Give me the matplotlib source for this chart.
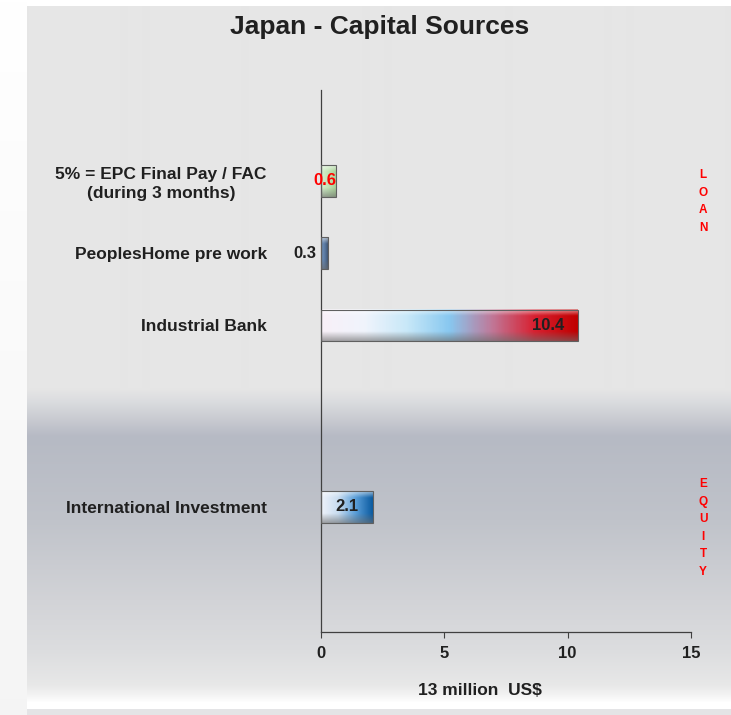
import numpy as np
import matplotlib
matplotlib.use("Agg")
import matplotlib.pyplot as plt
from matplotlib.colors import LinearSegmentedColormap, to_rgb
from matplotlib.patches import Rectangle

plt.rcParams['font.family'] = ['Liberation Sans', 'DejaVu Sans']
plt.rcParams['font.weight'] = 'bold'

# Data
categories = ["5% = EPC Final Pay / FAC\n(during 3 months)",
              "PeoplesHome pre work",
              "Industrial Bank",
              "International Investment"]
values = [0.6, 0.3, 10.4, 2.1]
slots = [1.25, 2.25, 3.25, 5.75]   # row slots (gap between loan and equity)
value_labels = ["0.6", "0.3", "10.4", "2.1"]
x_ticks = [0, 5, 10, 15]
x_label = "13 million  US$"
title = "Japan - Capital Sources"
groups = ["LOAN", "EQUITY"]

# horizontal colour ramps for the bevelled bars
bar_ramps = [
    ['#d8f0d0', '#c0e4b4', '#a8d098'],
    ['#7898c0', '#5878a0', '#384860'],
    ['#f8f0f8', '#f0f4fc', '#c8e8f8', '#88c8f0', '#c07898', '#d82030', '#c00000'],
    ['#eef2fa', '#c8dcf0', '#5a9ed8', '#0a5aa0'],
]

W, H = 731, 715
fig = plt.figure(figsize=(W / 100, H / 100), dpi=100)
fig.patch.set_facecolor('white')

# background panel with vertical gradient
bg = fig.add_axes([0, 0, 1, 1], zorder=-10)
bg.axis('off')
stops_y = [0, 388, 400, 415, 436, 520, 600, 650, 685, 695, 702, 705]
stops_c = ['#e6e6e6', '#e6e6e6', '#dcdde0', '#cdcfd4', '#b6bac4', '#c0c3ca',
           '#d2d3d7', '#dcdddf', '#e8e8e8', '#f4f4f4', '#ffffff', '#ffffff']
ys = np.arange(6, 705)
cols = np.array([to_rgb(c) for c in stops_c])
grad = np.stack([np.interp(ys, stops_y, cols[:, k]) for k in range(3)], axis=-1)
bg.imshow(grad[:, None, :], extent=(27, W, 705, 6), aspect='auto', interpolation='bilinear')
bg.add_patch(Rectangle((27, 709), W - 27, 6, color='#e4e4e6', lw=0))
left_strip = np.linspace(1.0, 0.96, 200)
bg.imshow(np.stack([left_strip] * 3, axis=-1)[:, None, :], extent=(0, 27, H, 0),
          aspect='auto', interpolation='bilinear')
bg.set_xlim(0, W)
bg.set_ylim(H, 0)

ax = fig.add_axes([321 / W, 1 - 632 / H, 370 / W, 542 / H])
ax.patch.set_alpha(0)

bar_h = 0.44
ny, nx = 40, 300
t = np.linspace(0, 1, ny)
# vertical bevel shading: light top edge, dark bottom edge
light = np.clip(1 - t / 0.2, 0, 1) * 0.55
dark = np.clip((t - 0.7) / 0.3, 0, 1) * 0.6
for i, (v, y, ramp) in enumerate(zip(values, slots, bar_ramps)):
    cmap = LinearSegmentedColormap.from_list('r%d' % i, ramp)
    row = cmap(np.linspace(0, 1, nx))[:, :3]
    img = np.repeat(row[None, :, :], ny, axis=0)
    img = img * (1 - light[:, None, None]) + light[:, None, None]
    img = img * (1 - dark[:, None, None]) + 0.42 * dark[:, None, None]
    ax.imshow(img, extent=(0, v, y + bar_h / 2, y - bar_h / 2), aspect='auto',
              interpolation='bilinear', zorder=2)
    ax.add_patch(Rectangle((0, y - bar_h / 2), v, bar_h, fill=False,
                           ec='#606060', lw=0.8, zorder=3))

ax.set_xlim(0, 15)
ax.set_ylim(7.48, 0)

# value labels
ax.text(values[0] + 0.02, slots[0], value_labels[0], color='red', fontsize=12,
        ha='right', va='center', zorder=4)
ax.text(-0.2, slots[1], value_labels[1], color='#202020', fontsize=12,
        ha='right', va='center', zorder=4)
ax.text(values[2] - 0.55, slots[2], value_labels[2], color='#202020', fontsize=12,
        ha='right', va='center', zorder=4)
ax.text(1.05, slots[3], value_labels[3], color='#202020', fontsize=12,
        ha='center', va='center', zorder=4)

ax.set_yticks(slots)
ax.set_yticklabels(categories, fontsize=12.5, color='#202020',
                   multialignment='center', linespacing=1.35)
ax.tick_params(axis='y', length=0, pad=39)
ax.set_xticks(x_ticks)
ax.set_xticklabels([str(x) for x in x_ticks], fontsize=12, color='#202020')
ax.tick_params(axis='x', length=4, width=0.8, color='#404040', pad=6, direction='out')
ax.set_xlabel(x_label, fontsize=12.5, fontweight='bold', color='#202020')
ax.xaxis.set_label_coords(0.43, -0.095)

for s in ['top', 'right']:
    ax.spines[s].set_visible(False)
for s in ['left', 'bottom']:
    ax.spines[s].set_color('#404040')
    ax.spines[s].set_linewidth(0.9)

# vertical group markers on the right
for word, y0 in zip(groups, [175, 484]):
    for k, ch in enumerate(word):
        fig.text(703 / W, 1 - (y0 + k * 17.6) / H, ch, color='red', fontsize=8.5,
                 ha='center', va='center')

fig.text(380 / W, 1 - 27 / H, title, fontsize=19, color='#202020',
         ha='center', va='center')

fig.savefig('out.png', dpi=100)
